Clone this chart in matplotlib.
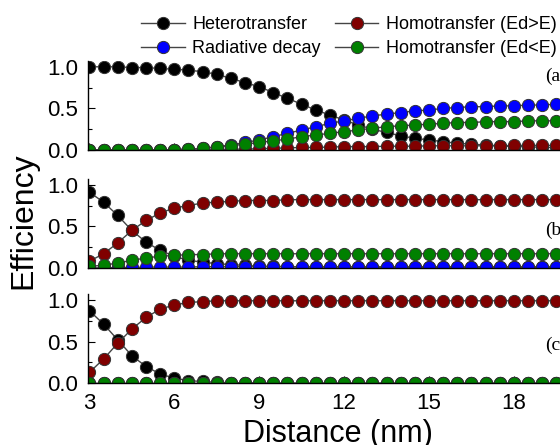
import numpy as np
import matplotlib
matplotlib.use("Agg")
import matplotlib.pyplot as plt
from matplotlib.ticker import MultipleLocator

plt.rcParams['font.family'] = ['Liberation Sans', 'DejaVu Sans']

# Distance between donor and acceptor (nm), 0.5 nm steps
distance = np.arange(3.0, 19.51, 0.5)

# Panel (a)
hetero_a = [1.00, 1.00, 1.00, 0.99, 0.99, 0.98, 0.97, 0.96, 0.94, 0.91, 0.86, 0.81,
            0.76, 0.69, 0.62, 0.55, 0.48, 0.42, 0.36, 0.30, 0.25, 0.21, 0.17, 0.14,
            0.12, 0.10, 0.08, 0.07, 0.06, 0.05, 0.04, 0.04, 0.03, 0.03]
radiative_a = [0.00, 0.00, 0.00, 0.00, 0.00, 0.00, 0.005, 0.01, 0.02, 0.04, 0.06, 0.09,
               0.12, 0.16, 0.20, 0.24, 0.28, 0.32, 0.35, 0.38, 0.41, 0.43, 0.45, 0.47,
               0.48, 0.50, 0.51, 0.52, 0.52, 0.53, 0.53, 0.54, 0.54, 0.55]
homo_up_a = [0.00, 0.00, 0.00, 0.00, 0.00, 0.00, 0.00, 0.00, 0.00, 0.005, 0.01, 0.01,
             0.015, 0.02, 0.025, 0.03, 0.03, 0.035, 0.04, 0.04, 0.04, 0.045, 0.045, 0.045,
             0.05, 0.05, 0.05, 0.05, 0.05, 0.05, 0.055, 0.055, 0.055, 0.055]
homo_down_a = [0.00, 0.00, 0.00, 0.00, 0.00, 0.00, 0.005, 0.01, 0.02, 0.03, 0.05, 0.07,
               0.09, 0.11, 0.13, 0.16, 0.18, 0.20, 0.22, 0.24, 0.26, 0.28, 0.29, 0.30,
               0.31, 0.32, 0.33, 0.33, 0.34, 0.34, 0.34, 0.35, 0.35, 0.35]

# Panel (b)
hetero_b = [0.91, 0.79, 0.63, 0.45, 0.31, 0.21, 0.14, 0.09, 0.07, 0.05, 0.04, 0.03,
            0.02, 0.02, 0.015, 0.01, 0.01, 0.01, 0.01, 0.01, 0.005, 0.005, 0.005, 0.005,
            0.005, 0.005, 0.005, 0.005, 0.005, 0.005, 0.005, 0.005, 0.005, 0.005]
radiative_b = [0.00, 0.00, 0.005, 0.005, 0.01, 0.01, 0.01, 0.01, 0.015, 0.015, 0.015, 0.015,
               0.015, 0.015, 0.015, 0.015, 0.015, 0.015, 0.015, 0.015, 0.015, 0.015, 0.015, 0.015,
               0.015, 0.015, 0.015, 0.015, 0.015, 0.015, 0.015, 0.015, 0.015, 0.015]
homo_up_b = [0.08, 0.17, 0.30, 0.45, 0.57, 0.66, 0.72, 0.75, 0.78, 0.79, 0.80, 0.81,
             0.81, 0.81, 0.82, 0.82, 0.82, 0.82, 0.82, 0.82, 0.82, 0.82, 0.82, 0.82,
             0.82, 0.82, 0.82, 0.82, 0.82, 0.82, 0.82, 0.82, 0.82, 0.82]
homo_down_b = [0.02, 0.03, 0.06, 0.09, 0.12, 0.14, 0.15, 0.16, 0.16, 0.17, 0.17, 0.17,
               0.17, 0.17, 0.17, 0.17, 0.17, 0.17, 0.17, 0.17, 0.17, 0.17, 0.17, 0.17,
               0.17, 0.17, 0.17, 0.17, 0.17, 0.17, 0.17, 0.17, 0.17, 0.17]

# Panel (c)
hetero_c = [0.87, 0.71, 0.52, 0.33, 0.20, 0.11, 0.06, 0.03, 0.02, 0.01, 0.005, 0.005,
            0.00, 0.00, 0.00, 0.00, 0.00, 0.00, 0.00, 0.00, 0.00, 0.00, 0.00, 0.00,
            0.00, 0.00, 0.00, 0.00, 0.00, 0.00, 0.00, 0.00, 0.00, 0.00]
radiative_c = [0.0] * 34
homo_up_c = [0.13, 0.29, 0.48, 0.65, 0.79, 0.89, 0.94, 0.97, 0.98, 0.99, 0.99, 0.99,
             0.99, 0.99, 0.99, 0.99, 0.99, 0.99, 0.99, 0.99, 0.99, 0.99, 0.99, 0.99,
             0.99, 0.99, 0.99, 0.99, 0.99, 0.99, 0.99, 0.99, 0.99, 0.99]
homo_down_c = [0.0] * 34

labels = ["Heterotransfer", "Radiative decay", "Homotransfer (Ed>E)", "Homotransfer (Ed<E)"]
colors = ["#000000", "#0000ff", "#800000", "#008000"]
panel_tags = ["(a)", "(b)", "(c)"]

panels = [
    [hetero_a, radiative_a, homo_up_a, homo_down_a],
    [hetero_b, radiative_b, homo_up_b, homo_down_b],
    [hetero_c, radiative_c, homo_up_c, homo_down_c],
]
tag_y = [0.88, 0.45, 0.46]

fig = plt.figure(figsize=(5.6, 4.45), dpi=100)
bottoms = [0.663, 0.398, 0.139]

handles = []
for k, (series, bot) in enumerate(zip(panels, bottoms)):
    ax = fig.add_axes([0.157, bot, 0.843, 0.2])
    for vals, c, lab in zip(series, colors, labels):
        h, = ax.plot(distance, vals, color="#444444", lw=1.0, marker="o", ms=8.8,
                     mfc=c, mec="#333333", mew=0.7, label=lab)
        if k == 0:
            handles.append(h)
    ax.set_xlim(2.947, 19.63)
    ax.set_ylim(0, 1.07)
    ax.set_yticks([0.0, 0.5, 1.0])
    ax.yaxis.set_minor_locator(MultipleLocator(0.25))
    ax.set_xticks([3, 6, 9, 12, 15, 18])
    ax.xaxis.set_minor_locator(MultipleLocator(1.5))
    ax.tick_params(which="major", direction="in", length=5, width=0.8, labelsize=16, pad=7)
    ax.tick_params(which="minor", direction="in", length=3, width=0.8)
    ax.spines["top"].set_visible(False)
    ax.spines["right"].set_visible(False)
    for s in ["left", "bottom"]:
        ax.spines[s].set_linewidth(1.0)
    ax.patch.set_alpha(0)
    if k < 2:
        ax.tick_params(labelbottom=False)
    ax.text(19.1, tag_y[k], panel_tags[k], fontsize=14, family="Liberation Serif",
            va="center", ha="left")

fig.text(0.042, 0.503, "Efficiency", rotation=90, fontsize=23, ha="center", va="center")
fig.text(0.604, 0.025, "Distance (nm)", fontsize=22, ha="center", va="center")

fig.legend(handles, labels, ncol=2, loc="center", bbox_to_anchor=(0.623, 0.918),
           frameon=False, fontsize=13, handlelength=2.4, handletextpad=0.4,
           columnspacing=0.8, labelspacing=0.4, borderpad=0)

fig.savefig("out.png", dpi=100)
